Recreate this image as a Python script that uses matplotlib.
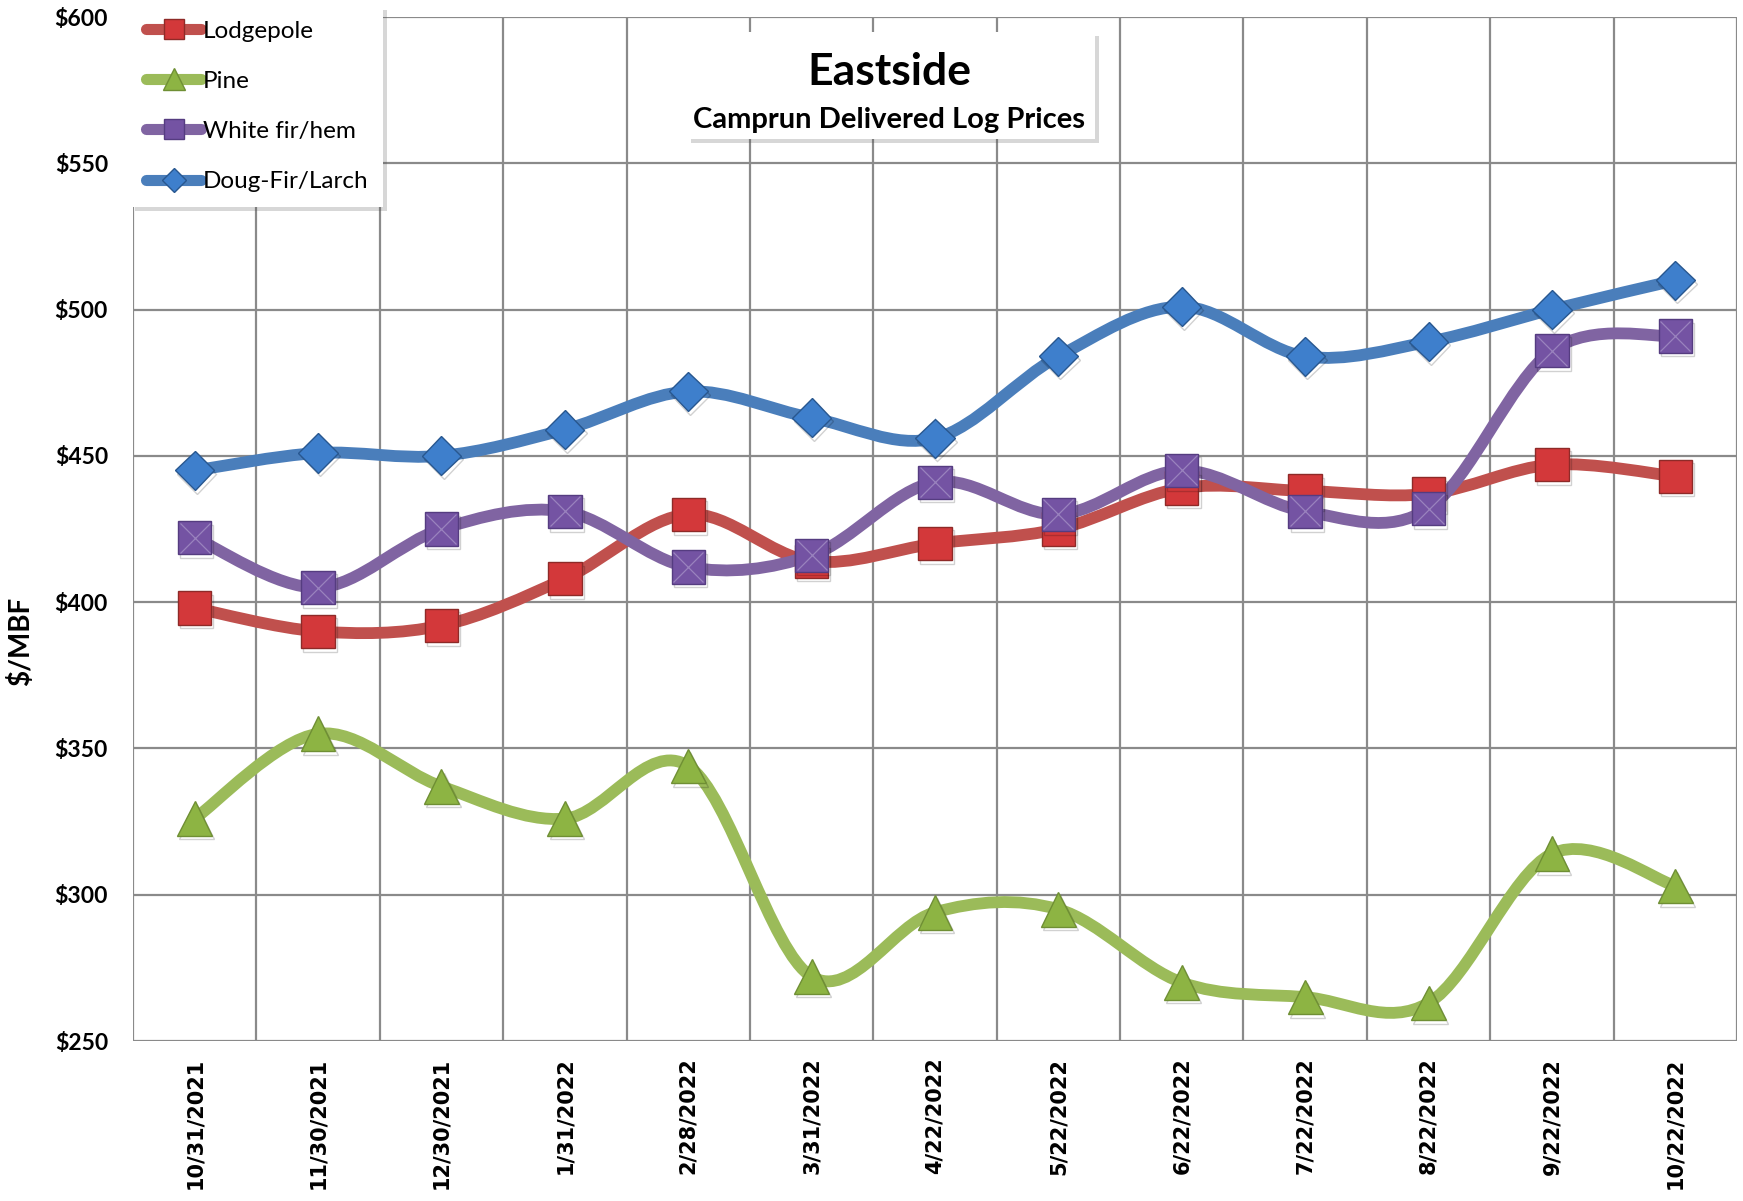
import matplotlib
matplotlib.use("Agg")
import matplotlib.pyplot as plt
from matplotlib.path import Path
from matplotlib.patches import PathPatch, Rectangle
from matplotlib.lines import Line2D
import matplotlib.patheffects as pe
import numpy as np

dates = ['10/31/2021', '11/30/2021', '12/30/2021', '1/31/2022', '2/28/2022', '3/31/2022',
         '4/22/2022', '5/22/2022', '6/22/2022', '7/22/2022', '8/22/2022', '9/22/2022', '10/22/2022']

lodgepole = [398, 390, 392, 408, 430, 414, 420, 425, 439, 438, 437, 447, 443]
pine = [326, 355, 337, 326, 344, 272, 294, 295, 270, 265, 263, 314, 303]
white_fir = [422, 405, 425, 431, 412, 416, 441, 430, 445, 431, 432, 486, 491]
doug_fir = [445, 451, 450, 459, 472, 463, 456, 484, 501, 484, 489, 500, 510]

y_ticks = [250, 300, 350, 400, 450, 500, 550, 600]

FONT = 'Lato'


def smooth_path(x, y):
    # Excel-like smoothed line: Catmull-Rom segments as cubic Bezier curves
    pts = np.column_stack([x, y]).astype(float)
    n = len(pts)
    verts = [pts[0]]
    codes = [Path.MOVETO]
    for i in range(n - 1):
        p0 = pts[max(i - 1, 0)]
        p1 = pts[i]
        p2 = pts[i + 1]
        p3 = pts[min(i + 2, n - 1)]
        c1 = p1 + (p2 - p0) / 6.0
        c2 = p2 - (p3 - p1) / 6.0
        verts += [c1, c2, p2]
        codes += [Path.CURVE4] * 3
    return Path(verts, codes)


fig = plt.figure(figsize=(17.43, 12.01), dpi=100)
ax = fig.add_axes([133 / 1743, 1 - 1041 / 1201, (1737 - 133) / 1743, (1041 - 17) / 1201])

xpos = np.arange(len(dates)) + 0.5

series = [
    ('Lodgepole', lodgepole, '#C0504D', 's', 24, '#D3383A', '#8E2A28'),
    ('Pine', pine, '#9BBB59', '^', 25, '#8DB443', '#6F8F34'),
    ('White fir/hem', white_fir, '#8064A2', 's', 24, '#7453A3', '#553C80'),
    ('Doug-Fir/Larch', doug_fir, '#4A7EBB', 'D', 20, '#3E7FCC', '#28578F'),
]

shadow = [pe.SimpleLineShadow(offset=(1.5, -2.5), alpha=0.18, shadow_color='k'), pe.Normal()]
handles = []
for name, vals, lc, mk, ms, fc, ec in series:
    patch = PathPatch(smooth_path(xpos, vals), facecolor='none', edgecolor=lc, lw=8.5,
                      capstyle='round', joinstyle='round', zorder=3)
    ax.add_patch(patch)
    ax.plot(xpos, vals, linestyle='none', marker=mk, ms=ms, mfc=fc, mec=ec, mew=1.0,
            zorder=4, path_effects=shadow)
    if name == 'White fir/hem':
        ax.plot(xpos, vals, linestyle='none', marker='x', ms=22, mec='#9A83BE', mew=0.9, zorder=4)
    handles.append(Line2D([], [], color=lc, lw=8, solid_capstyle='round', marker=mk,
                          ms=ms * 0.62, mfc=fc, mec=ec, mew=1.0, label=name))

ax.set_xlim(0, len(dates))
ax.set_ylim(250, 600)
ax.set_yticks(y_ticks)
ax.set_yticklabels([f'${v}' for v in y_ticks], fontsize=16.5, fontweight='bold', family=FONT)
ax.set_xticks(xpos)
ax.set_xticklabels(dates, rotation=90, fontsize=15, fontweight='bold', family='DejaVu Sans',
                   va='top', ha='center')
ax.tick_params(axis='both', which='both', length=0)
ax.tick_params(axis='y', pad=18)
ax.tick_params(axis='x', pad=12)

ax.grid(False)
for v in y_ticks:
    ax.axhline(v, color='#8A8A8A', lw=1.6, zorder=1)
for b in range(len(dates) + 1):
    ax.axvline(b, color='#8A8A8A', lw=1.6, zorder=1)
for s in ax.spines.values():
    s.set_visible(False)

ax.set_ylabel('$/MBF', fontsize=20, fontweight='bold', family=FONT)
ax.yaxis.set_label_coords((34 - 133) / 1604, 0.39)

leg = ax.legend(handles=handles, loc='upper left', bbox_to_anchor=(131 / 1743, 1 - 6 / 1201),
                bbox_transform=fig.transFigure, frameon=True, fancybox=False, shadow=False,
                framealpha=1.0, handlelength=2.3, handletextpad=0.05, labelspacing=1.2,
                borderpad=0.6, borderaxespad=0, prop={'family': FONT, 'size': 17.5})
leg.get_frame().set_edgecolor('none')
leg.get_frame().set_facecolor('white')
leg.get_frame().set_path_effects([pe.SimplePatchShadow(offset=(3, -3), alpha=0.22), pe.Normal()])
leg.set_zorder(10)

# title box
tb = Rectangle((687 / 1743, 1 - 139 / 1201), (1095 - 687) / 1743, (139 - 32) / 1201,
               transform=fig.transFigure, facecolor='white', edgecolor='none', zorder=5,
               path_effects=[pe.SimplePatchShadow(offset=(3, -3), alpha=0.22), pe.Normal()])
fig.patches.append(tb)
fig.text(889 / 1743, 1 - 72 / 1201, 'Eastside', ha='center', va='center', fontsize=32,
         fontweight='bold', family=FONT, zorder=6)
fig.text(889 / 1743, 1 - 120 / 1201, 'Camprun Delivered Log Prices', ha='center', va='center',
         fontsize=21, fontweight='bold', family=FONT, zorder=6)

fig.savefig('out.png', dpi=100)
